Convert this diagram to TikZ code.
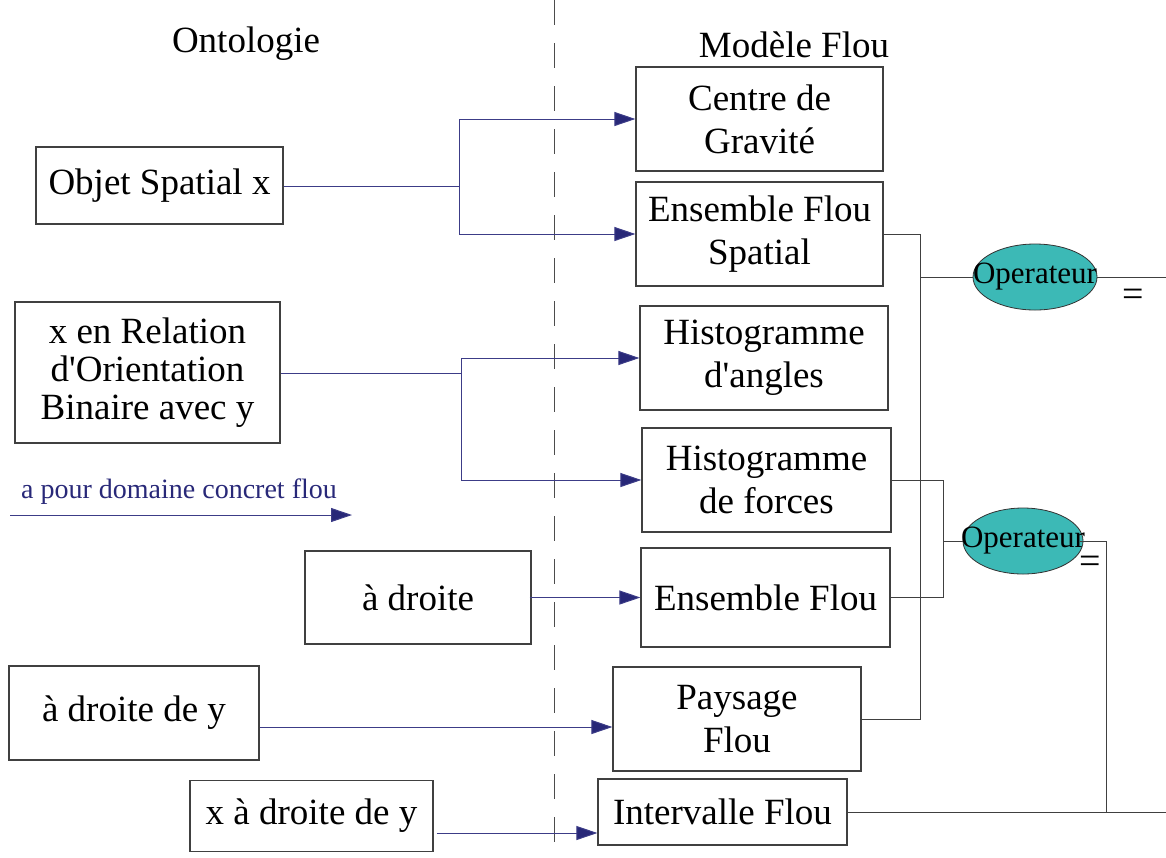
\documentclass[tikz,border=0pt]{standalone}
\usepackage{fontspec}
\setmainfont{Liberation Serif}
\usetikzlibrary{arrows.meta,shapes.geometric,calc}
\definecolor{navy}{RGB}{40,40,120}
\definecolor{navyline}{RGB}{60,60,135}
\definecolor{tealfill}{RGB}{60,185,182}
\begin{document}
\begin{tikzpicture}[x=1pt,y=-1pt,
  box/.style={draw=black!75, line width=1.2pt, inner sep=0pt, align=center,
    font=\fontsize{37}{43}\selectfont},
  lbox/.style={box, font=\fontsize{37}{38}\selectfont},
  head/.style={inner sep=0pt, font=\fontsize{37}{43}\selectfont},
  opnode/.style={ellipse, draw=black!80, line width=0.8pt, fill=tealfill, inner sep=0pt},
  optext/.style={inner sep=0pt, font=\fontsize{31}{31}\selectfont},
  eqsign/.style={inner sep=0pt, font=\fontsize{38}{38}\selectfont},
  conc/.style={draw=navyline, line width=1pt, -{Triangle[length=21pt,width=14pt,fill=navy]}},
  concline/.style={draw=navyline, line width=1pt},
  plain/.style={draw=black!75, line width=1pt},
  sep/.style={draw=black!70, line width=1pt, dash pattern=on 25pt off 18pt}
]
\useasboundingbox (0,0) rectangle (1166,857);

% separator
\coordinate (septop) at (554,0);
\coordinate (sepbot) at (554,857);
\draw[sep] (septop) -- (sepbot);

% headers
\node[head] (ontologie) at (246,44) {Ontologie};
\node[head] (modele) at (794,45) {Modèle Flou};

% left boxes
\node[box, minimum width=247pt, minimum height=77pt] (objet) at (159.5,185.5) {Objet Spatial x};
\node[lbox, minimum width=265pt, minimum height=141pt] (relation) at (147.5,372.5) {x en Relation\\d\textquotesingle Orientation\\Binaire avec y};
\node[box, minimum width=226pt, minimum height=93pt] (adroite) at (418,597.5) {à droite};
\node[box, minimum width=250pt, minimum height=94pt] (adroitey) at (134,713) {à droite de y};
\node[box, minimum width=243pt, minimum height=71pt] (xadroitey) at (311.5,816) {x à droite de y};

% right boxes
\node[box, minimum width=247pt, minimum height=104pt] (centre) at (759.5,119) {Centre de\\Gravité};
\node[box, minimum width=247pt, minimum height=104pt] (efs) at (759.5,234) {Ensemble Flou\\Spatial};
\node[box, minimum width=248pt, minimum height=104pt] (hangles) at (764,358) {Histogramme\\d\textquotesingle angles};
\node[box, minimum width=249pt, minimum height=104pt] (hforces) at (766.5,480) {Histogramme\\de forces};
\node[box, minimum width=249pt, minimum height=99pt] (ef) at (765.5,597.5) {Ensemble Flou};
\node[box, minimum width=248pt, minimum height=104pt] (paysage) at (737,719) {Paysage\\Flou};
\node[box, minimum width=249pt, minimum height=66pt] (intervalle) at (722.5,812) {Intervalle Flou};

% operators
\node[opnode, minimum width=124pt, minimum height=66pt] (op1) at (1035,277) {};
\node[optext] (op1t) at (op1.center) {Operateur};
\node[opnode, minimum width=120pt, minimum height=66pt] (op2) at (1023,541) {};
\node[optext] (op2t) at (op2.center) {Operateur};
\node[eqsign] (eq1) at (1133,298) {=};
\node[eqsign] (eq2) at (1090,565) {=};

% legend
\coordinate (legA) at (10,515);
\coordinate (legB) at (352,515);
\draw[conc] (legA) -- (legB);
\node[inner sep=0pt, text=navy, font=\fontsize{28}{28}\selectfont] (legtext) at (179,492) {a pour domaine concret flou};

% blue connectors
\coordinate (j1) at (459,186);
\draw[concline] (objet.east |- j1) -- (j1);
\draw[conc] (j1) |- (centre.west);
\draw[conc] (j1) |- (efs.west);
\coordinate (j2) at (461,373);
\draw[concline] (relation.east |- j2) -- (j2);
\draw[conc] (j2) |- (hangles.west);
\draw[conc] (j2) |- (hforces.west);
\draw[conc] ([xshift=-2pt]adroite.east) -- (ef.west);
\draw[conc] ([yshift=-14pt]adroitey.east) -- ([yshift=-14pt]adroitey.east -| paysage.west);
\draw[conc] ([xshift=3pt,yshift=-17pt]xadroitey.east) -- ([yshift=-17pt]xadroitey.east -| intervalle.west);

% black connectors
\coordinate (k1) at (920,277);
\coordinate (rightA) at (1166,277);
\draw[plain] (efs.east) -| (k1);
\draw[plain] (k1) -- (op1.west);
\draw[plain] (k1) |- (paysage.east);
\draw[plain] (op1.east) -- (rightA);

\coordinate (k2) at (943,541);
\draw[plain] (hforces.east) -| (k2);
\draw[plain] (ef.east) -| (k2);
\draw[plain] (k2) -- (op2.west);
\coordinate (k3) at (1106,812);
\coordinate (rightB) at (1166,812);
\draw[plain] ([xshift=-3pt]op2.east) -| (k3);
\draw[plain] (intervalle.east) -- (rightB);
\end{tikzpicture}
\end{document}
